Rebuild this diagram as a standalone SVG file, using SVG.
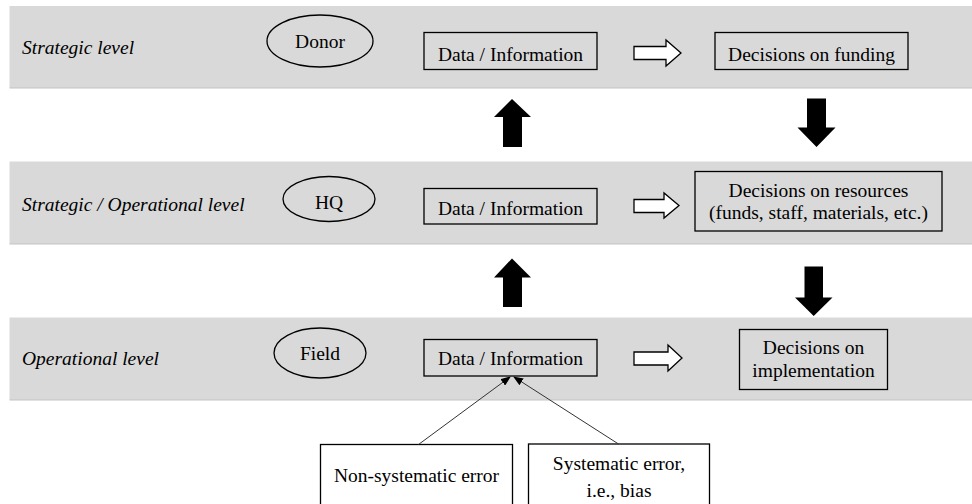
<svg xmlns="http://www.w3.org/2000/svg" width="972" height="504" viewBox="0 0 972 504">
<defs>
<style>
.band{fill:#d9d9d9;}
.bline{stroke:#c3c3c3;stroke-width:1.2;fill:none;}
.box{fill:none;stroke:#000;stroke-width:1.3;}
.wbox{fill:#fff;stroke:#000;stroke-width:1.3;}
.ell{fill:none;stroke:#000;stroke-width:1.3;}
.solid{fill:#000;stroke:none;}
.hollow{fill:#fff;stroke:#000;stroke-width:1.3;stroke-linejoin:miter;}
.err{stroke:#333;stroke-width:1;fill:none;marker-end:url(#ah);}
</style>
<marker id="ah" markerWidth="10" markerHeight="8" refX="9" refY="4" orient="auto" markerUnits="userSpaceOnUse">
<path d="M0,0 L10,4 L0,8 Z" fill="#000"/>
</marker>
</defs>

<g id="bands">
<rect class="band" x="9.5" y="6" width="963" height="82"/>
<line class="bline" x1="9.5" y1="88" x2="972" y2="88"/>
<rect class="band" x="9.5" y="161.5" width="963" height="82.5"/>
<line class="bline" x1="9.5" y1="244" x2="972" y2="244"/>
<rect class="band" x="9.5" y="317.5" width="963" height="82.5"/>
<line class="bline" x1="9.5" y1="400" x2="972" y2="400"/>
</g>

<g id="labels">
<text x="22" y="53.5" font-family="Liberation Serif" font-size="19.5" font-style="italic">Strategic level</text>
<text x="22" y="211" font-family="Liberation Serif" font-size="19.5" font-style="italic">Strategic / Operational level</text>
<text x="22" y="365" font-family="Liberation Serif" font-size="19.5" font-style="italic">Operational level</text>
</g>

<g id="donor">
<ellipse class="ell" cx="320" cy="41" rx="53" ry="26"/>
<text x="320" y="48" font-family="Liberation Serif" font-size="19.5" text-anchor="middle">Donor</text>
</g>
<g id="data1">
<rect class="box" x="424" y="32.5" width="173" height="37"/>
<text x="510.5" y="61" font-family="Liberation Serif" font-size="19.5" text-anchor="middle">Data / Information</text>
</g>
<g id="funding">
<rect class="box" x="715" y="32.5" width="193" height="37"/>
<text x="811.5" y="61" font-family="Liberation Serif" font-size="19.5" text-anchor="middle">Decisions on funding</text>
</g>

<g id="hq">
<ellipse class="ell" cx="329" cy="199" rx="46" ry="22.5"/>
<text x="329" y="209" font-family="Liberation Serif" font-size="19.5" text-anchor="middle">HQ</text>
</g>
<g id="data2">
<rect class="box" x="424" y="188.5" width="173" height="35.5"/>
<text x="510.5" y="215" font-family="Liberation Serif" font-size="19.5" text-anchor="middle">Data / Information</text>
</g>
<g id="resources">
<rect class="box" x="695" y="171.5" width="247" height="59.5"/>
<text x="818.5" y="196.5" font-family="Liberation Serif" font-size="19.5" text-anchor="middle">Decisions on resources</text>
<text x="818.5" y="218.5" font-family="Liberation Serif" font-size="19.5" text-anchor="middle">(funds, staff, materials, etc.)</text>
</g>

<g id="field">
<ellipse class="ell" cx="320" cy="353" rx="46" ry="25"/>
<text x="320" y="360" font-family="Liberation Serif" font-size="19.5" text-anchor="middle">Field</text>
</g>
<g id="data3">
<rect class="box" x="424" y="339.5" width="173" height="36.5"/>
<text x="510.5" y="365" font-family="Liberation Serif" font-size="19.5" text-anchor="middle">Data / Information</text>
</g>
<g id="implementation">
<rect class="box" x="739.5" y="329.5" width="148" height="60"/>
<text x="813.5" y="354" font-family="Liberation Serif" font-size="19.5" text-anchor="middle">Decisions on</text>
<text x="813.5" y="377" font-family="Liberation Serif" font-size="19.5" text-anchor="middle">implementation</text>
</g>

<g id="nonsys">
<rect class="wbox" x="320.5" y="444.5" width="192" height="62"/>
<text x="416.5" y="481.5" font-family="Liberation Serif" font-size="19.5" text-anchor="middle">Non-systematic error</text>
</g>
<g id="sys">
<rect class="wbox" x="528.5" y="444" width="181" height="62"/>
<text x="619" y="470" font-family="Liberation Serif" font-size="19.5" text-anchor="middle">Systematic error,</text>
<text x="619" y="497" font-family="Liberation Serif" font-size="19.5" text-anchor="middle">i.e., bias</text>
</g>

<g id="connectors">
<polygon class="solid" points="512,99 531,117 522,117 522,147 503,147 503,117 494,117"/>
<polygon class="solid" points="512,258.5 531,277.5 522,277.5 522,307 503,307 503,277.5 494,277.5"/>
<polygon class="solid" points="807,98.5 826,98.5 826,127.5 835.5,127.5 816.5,147 797.5,127.5 807,127.5"/>
<polygon class="solid" points="804.5,266.5 823,266.5 823,297.5 832.5,297.5 813.7,316 795,297.5 804.5,297.5"/>
<polygon class="hollow" points="634,46.5 666,46.5 666,40 681,53 666,66 666,59.5 634,59.5"/>
<polygon class="hollow" points="634,199.5 664,199.5 664,193 679,205.5 664,218 664,212.5 634,212.5"/>
<polygon class="hollow" points="634,352 668,352 668,345 682,358 668,371 668,365 634,365"/>
<line class="err" x1="418.5" y1="444.5" x2="510" y2="377"/>
<line class="err" x1="618.5" y1="444" x2="514" y2="377"/>
</g>
</svg>
